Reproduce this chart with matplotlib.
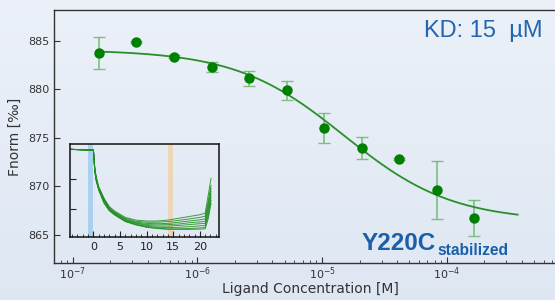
import numpy as np
import matplotlib.pyplot as plt
from matplotlib.ticker import LogLocator, MultipleLocator, NullFormatter

# dose-response data
conc = [1.62e-7, 3.24e-7, 6.48e-7, 1.30e-6, 2.59e-6, 5.19e-6, 1.04e-5, 2.08e-5, 4.15e-5, 8.30e-5, 1.66e-4]
fnorm = [883.8, 884.9, 883.4, 882.3, 881.15, 879.9, 876.0, 873.95, 872.85, 869.65, 866.7]
fnorm_err = [1.65, 0.15, 0.2, 0.5, 0.8, 1.0, 1.55, 1.15, 0.1, 3.0, 1.85]

# fit parameters (1:1 binding)
unbound = 884.1
bound = 866.4
kd = 15e-6
fit_end = 3.7e-4

# inset: MST traces
trace_t = [-4.4, 0, 0.25, 0.5, 1, 2, 3, 4, 6, 8, 10, 12, 14, 16, 18, 20, 21, 21.6, 22.1]
traces = [
    [1.000, 0.997, 0.940, 0.910, 0.875, 0.837, 0.809, 0.794, 0.773, 0.764, 0.761, 0.761, 0.764, 0.770, 0.776, 0.782, 0.787, 0.850, 0.903],
    [1.000, 0.997, 0.938, 0.908, 0.873, 0.834, 0.806, 0.791, 0.770, 0.760, 0.757, 0.757, 0.759, 0.763, 0.768, 0.773, 0.777, 0.830, 0.880],
    [1.000, 0.997, 0.936, 0.906, 0.871, 0.831, 0.804, 0.789, 0.767, 0.757, 0.753, 0.752, 0.753, 0.757, 0.761, 0.765, 0.768, 0.820, 0.870],
    [1.000, 0.997, 0.935, 0.904, 0.869, 0.829, 0.801, 0.787, 0.765, 0.755, 0.749, 0.748, 0.749, 0.751, 0.755, 0.758, 0.760, 0.810, 0.860],
    [1.000, 0.997, 0.933, 0.902, 0.868, 0.826, 0.799, 0.785, 0.763, 0.753, 0.746, 0.744, 0.744, 0.746, 0.749, 0.752, 0.753, 0.800, 0.850],
    [1.000, 0.997, 0.931, 0.900, 0.866, 0.824, 0.798, 0.783, 0.761, 0.750, 0.743, 0.740, 0.739, 0.740, 0.742, 0.745, 0.746, 0.790, 0.840],
    [1.000, 0.997, 0.930, 0.898, 0.865, 0.822, 0.796, 0.782, 0.760, 0.749, 0.741, 0.737, 0.735, 0.735, 0.736, 0.738, 0.739, 0.780, 0.830],
    [1.000, 0.997, 0.928, 0.896, 0.864, 0.820, 0.795, 0.781, 0.759, 0.748, 0.740, 0.736, 0.733, 0.733, 0.733, 0.734, 0.735, 0.770, 0.820],
]
cold_region = (-1, 0)
hot_region = (14, 15)

fig = plt.figure(figsize=(5.55, 3.0), dpi=100)

# background gradient
bg = fig.add_axes([0, 0, 1, 1], zorder=-10)
grad = np.linspace(0, 1, 100).reshape(-1, 1)
c_top = np.array([0.925, 0.945, 0.975])
c_bot = np.array([0.870, 0.905, 0.950])
img = c_top + (c_bot - c_top) * grad[:, :, None]
bg.imshow(img, aspect='auto', extent=[0, 1, 0, 1])
bg.axis('off')

ax = fig.add_axes([0.0973, 0.1233, 0.9234, 0.8434])
ax.patch.set_alpha(0)
ax.set_xscale('log')

ax.errorbar(conc, fnorm, yerr=fnorm_err, fmt='none', ecolor='#6cb86c',
            elinewidth=1.2, capsize=4, capthick=1.0, alpha=0.85, zorder=2)
ax.plot(conc, fnorm, 'o', color='#008000', markersize=6.5, zorder=4)

xfit = np.logspace(np.log10(conc[0]), np.log10(fit_end), 200)
yfit = unbound + (bound - unbound) * xfit / (xfit + kd)
ax.plot(xfit, yfit, color='#2a8f2a', lw=1.3, zorder=3)

ax.set_xlim(10 ** -7.15, 10 ** -3.04)
ax.set_ylim(862.1, 888.2)
ax.set_yticks([865, 870, 875, 880, 885])
ax.xaxis.set_major_locator(LogLocator(base=10, numticks=10))
ax.xaxis.set_minor_locator(LogLocator(base=10, subs=np.arange(2, 10), numticks=20))
ax.xaxis.set_minor_formatter(NullFormatter())
ax.tick_params(which='both', direction='in', colors='#333333', labelsize=8)
ax.tick_params(which='major', length=4)
ax.tick_params(which='minor', length=2.5)
ax.tick_params(axis='x', which='major', pad=2)
ax.spines['right'].set_visible(False)
for s in ['left', 'bottom', 'top']:
    ax.spines[s].set_color('#333333')
    ax.spines[s].set_linewidth(1.0)

ax.set_xlabel('Ligand Concentration [M]', fontsize=10, color='#333333', labelpad=0)
ax.set_ylabel('Fnorm [‰]', fontsize=10, color='#333333', labelpad=4)

fig.text(543 / 555, 1 - 31 / 300, 'KD: 15  µM', ha='right', va='center',
         fontsize=17, color='#2266b0', family='Liberation Sans')
fig.text(362 / 555, 1 - 250 / 300, 'Y220C', ha='left', va='baseline',
         fontsize=17.5, color='#1a5fa8', family='Liberation Sans', weight='bold')
fig.text(437 / 555, 1 - 255 / 300, 'stabilized', ha='left', va='baseline',
         fontsize=11.2, color='#1a5fa8', family='Liberation Sans', weight='bold')

# inset
ins = fig.add_axes([70 / 555, 1 - 237.3 / 300, 149 / 555, 93 / 300])
ins.patch.set_alpha(0)
ins.axvspan(*cold_region, color='#9ccbee', alpha=0.8, lw=0)
ins.axvspan(*hot_region, color='#f0d2a8', alpha=0.8, lw=0)
for tr in traces:
    ins.plot(trace_t, tr, color='#1f8f1f', lw=0.7, alpha=0.85)
ins.set_xlim(-4.4, 23.6)
ins.set_ylim(0.7067, 1.0167)
ins.set_xticks([0, 5, 10, 15, 20])
ins.xaxis.set_minor_locator(MultipleLocator(1))
ins.set_yticks([0.8, 0.9, 1.0])
ins.set_yticklabels([])
ins.tick_params(which='both', direction='in', colors='#222222', labelsize=8)
ins.tick_params(which='major', length=4)
ins.tick_params(which='minor', length=2.5)
for s in ins.spines.values():
    s.set_color('#111111')
    s.set_linewidth(1.1)

fig.savefig('out.png', dpi=100)
